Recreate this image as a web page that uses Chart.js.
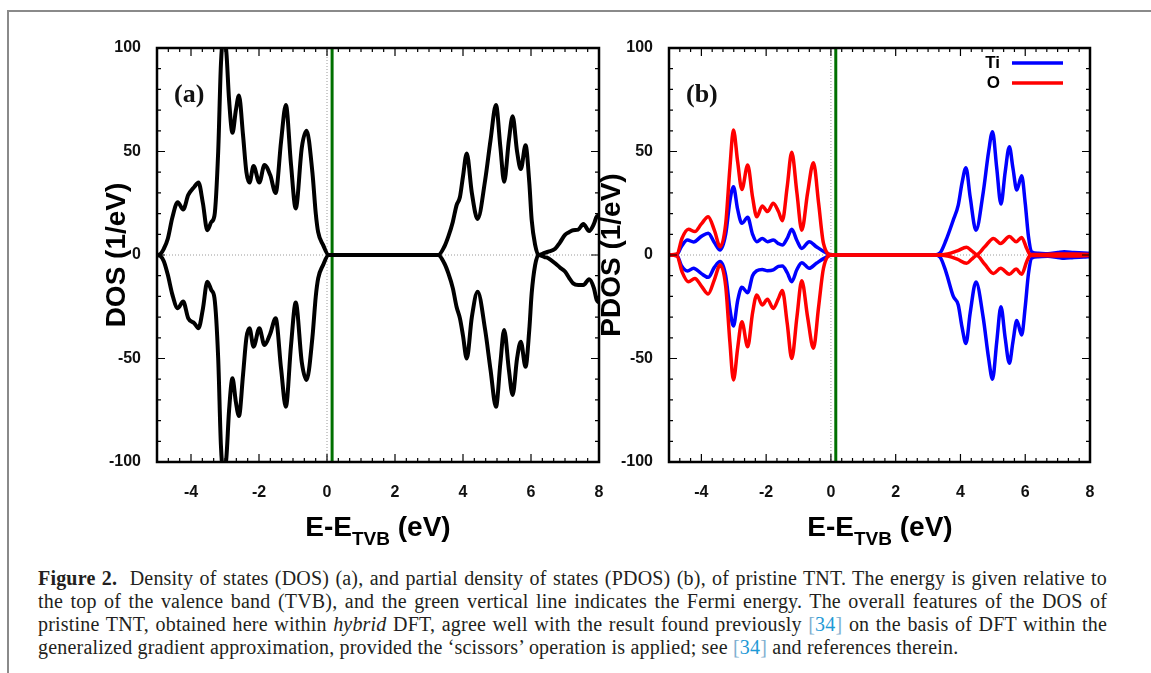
<!DOCTYPE html>
<html>
<head>
<meta charset="utf-8">
<script src="https://cdn.jsdelivr.net/npm/chart.js@4.4.0/dist/chart.umd.min.js"></script>
<style>
  body { margin: 0; background: #fff; width: 1151px; height: 673px; position: relative; overflow: hidden; }
  .frame { position: absolute; left: 7px; top: 10px; width: 1160px; height: 680px; border-top: 2px solid #8a8a8a; border-left: 2px solid #8a8a8a; }
  canvas { position: absolute; top: 0; }
  #chartA { left: 0; }
  #chartB { left: 560px; }
  .xtitle { position: absolute; top: 513px; font: bold 28px 'Liberation Sans', Arial, sans-serif; line-height: 28px; transform: translateX(-50%); white-space: nowrap; color: #000; }
  .xtitle span { font-size: 19px; position: relative; top: 9px; }
  .caption { position: absolute; left: 38px; top: 567px; width: 1069px; font: 20px 'Liberation Serif', 'Times New Roman', serif; letter-spacing: 0.2px; color: #231f20; }
  .caption div { height: 23px; line-height: 23px; text-align: justify; text-align-last: justify; white-space: nowrap; }
  .caption div.last { text-align-last: left; }
  .ref { color: #7fb0d0; }
  .ref b { color: #1f9ad6; font-weight: normal; }
</style>
</head>
<body>
<div class="frame"></div>
<canvas id="chartA" width="620" height="560"></canvas>
<canvas id="chartB" width="591" height="560"></canvas>
<div class="xtitle" style="left:378px">E-E<span>TVB</span> (eV)</div>
<div class="xtitle" style="left:880px">E-E<span>TVB</span> (eV)</div>
<div class="caption">
  <div><b>Figure 2.</b>&nbsp; Density of states (DOS) (a), and partial density of states (PDOS) (b), of pristine TNT. The energy is given relative to</div>
  <div>the top of the valence band (TVB), and the green vertical line indicates the Fermi energy. The overall features of the DOS of</div>
  <div>pristine TNT, obtained here within <i>hybrid</i> DFT, agree well with the result found previously <span class="ref">[<b>34</b>]</span> on the basis of DFT within the</div>
  <div class="last">generalized gradient approximation, provided the ‘scissors’ operation is applied; see <span class="ref">[<b>34</b>]</span> and references therein.</div>
</div>
<script>
// axes
const xTicks = [-4, -2, 0, 2, 4, 6, 8];
const yTicks = [-100, -50, 0, 50, 100];
const fermiLevel = 0.15;

// panel (a) : total DOS, spin up and spin down
const energyA = [-5.0, -4.9, -4.8, -4.68, -4.55, -4.39, -4.23, -4.08, -3.9, -3.78, -3.65, -3.52, -3.4, -3.31, -3.2, -3.12, -3.04, -2.96, -2.88, -2.78,
  -2.68, -2.59, -2.47, -2.37, -2.28, -2.16, -1.99, -1.84, -1.67, -1.51, -1.35, -1.21, -1.06, -0.92, -0.74, -0.6, -0.43, -0.33, -0.26, -0.12,
  0.05, 3.27, 3.45, 3.57, 3.7, 3.81, 3.91, 4.0, 4.11, 4.26, 4.43, 4.65, 4.81, 4.97, 5.1, 5.21, 5.35, 5.46, 5.59, 5.7,
  5.84, 5.95, 6.02, 6.12, 6.22, 6.4, 6.51, 6.71, 6.85, 7.0, 7.12, 7.24, 7.39, 7.54, 7.71, 7.85, 7.93, 8.0];
const dosUp = [0, 0.5, 3, 8, 18, 25.5, 22, 29, 33, 35, 25, 12, 16, 19, 50, 92, 106, 98, 75, 59,
  70, 77, 58, 40, 35, 43, 35, 43.5, 38.6, 30, 55, 72.5, 44, 22.5, 52, 60, 40, 20, 11, 5,
  0, 0, 4, 9, 16, 24, 28, 38, 49, 30, 17.4, 36, 55.5, 72.5, 52, 35.4, 55.5, 67, 50, 41.5,
  53, 35, 17, 5, 0, 1, 1.6, 3, 6, 9.7, 11, 12, 12.3, 15, 11.6, 15, 18.5, 19];
const dosDown = [0, -0.5, -3, -9.7, -19, -25.7, -22.5, -30.6, -33, -35.4, -26, -12.9, -17, -20.8, -50, -92, -106, -98, -75, -59.6,
  -71, -77.8, -58, -40, -35.4, -44.3, -35.4, -43.5, -38, -30.6, -55, -73.3, -44, -23, -52, -60.4, -40, -20, -11.3, -5,
  0, 0, -4, -8.9, -16, -25, -30.6, -39, -50, -30, -17.7, -36, -55.5, -73.3, -52, -36.2, -55.5, -67.6, -50, -41.9,
  -54, -36, -18.5, -5, 0, -1, -1.6, -4, -6, -8, -11, -13.7, -14.5, -14.5, -11.7, -16, -21.7, -23];

// panel (b) : partial DOS of Ti
const energyTi = [-5.0, -4.75, -4.62, -4.43, -4.24, -4.0, -3.79, -3.6, -3.42, -3.25, -3.12, -3.01, -2.88, -2.75, -2.57, -2.42, -2.29, -2.12, -1.96, -1.78,
  -1.62, -1.5, -1.35, -1.21, -1.05, -0.9, -0.67, -0.45, -0.2, 0.03, 3.2, 3.37, 3.55, 3.78, 3.93, 4.05, 4.17, 4.3, 4.48, 4.7,
  4.87, 4.99, 5.12, 5.25, 5.38, 5.51, 5.62, 5.74, 5.89, 6.0, 6.1, 6.2, 6.4, 6.7, 7.0, 7.2, 7.5, 7.8, 8.0];
const tiUp = [0, 0.3, 4, 7.2, 6.3, 9, 10.5, 6, 2.4, 10, 26, 33, 22, 15.3, 18.2, 10, 6.4, 8, 6.4, 7.2,
  5.5, 4.8, 8, 12.4, 7, 3.2, 6.4, 4, 1.5, 0, 0, 1, 7, 17, 24, 35, 42.2, 28, 12, 30,
  50, 59.6, 42, 24.6, 40, 52.3, 42, 31.4, 38.3, 25, 8.9, 1.5, 0.8, 0.6, 1.2, 1.6, 1.2, 1, 0.8];
const tiDown = [0, -0.3, -5, -7.7, -6.4, -9, -10.8, -6, -3.2, -10, -26, -34.3, -22, -15.6, -18.2, -10, -7.6, -7, -7.6, -7.2,
  -5.5, -5.3, -8.5, -12.9, -7, -3.7, -6.4, -4, -1.5, 0, 0, -1, -8, -20, -24, -35, -42.7, -28, -13, -30,
  -50, -60, -42, -25, -40, -52.3, -42, -31.7, -38.6, -25, -9, -1.5, -0.8, -0.6, -1.2, -1.6, -1.2, -1, -0.8];

// panel (b) : partial DOS of O
const energyO = [-5.0, -4.75, -4.6, -4.4, -4.2, -4.0, -3.79, -3.6, -3.42, -3.25, -3.12, -3.01, -2.88, -2.75, -2.57, -2.42, -2.29, -2.12, -1.96, -1.78,
  -1.62, -1.5, -1.35, -1.21, -1.05, -0.9, -0.72, -0.54, -0.38, -0.23, 0.03, 3.3, 3.6, 3.9, 4.19, 4.35, 4.5, 4.75, 5.02, 5.24,
  5.51, 5.72, 5.89, 6.05, 6.15, 6.5, 7.0, 7.5, 8.0];
const oUp = [0, 0.5, 8, 12.4, 11.3, 15, 18.5, 12, 4, 15, 42, 60.4, 45, 31.7, 43.5, 28, 18.5, 23.7, 21, 25,
  21, 16.6, 33, 49.6, 30, 12, 30, 44.6, 25, 5.6, 0, 0, 0.5, 2, 3.7, 2, 0.3, 4, 8, 5.6,
  8.9, 6.4, 8.5, 3, 0.3, 0.3, 0.5, 0.5, 0.3];
const oDown = [0, -0.5, -8, -12.9, -11.3, -15, -18.8, -12, -4.8, -15, -42, -60.4, -45, -32.2, -44.3, -28, -19.3, -24.2, -21.4, -25.8,
  -21, -17.2, -33, -50, -30, -12.4, -30, -45, -25, -6.4, 0, 0, -0.5, -2, -4, -2, -0.3, -4.5, -8.9, -6.4,
  -9.3, -6.8, -9.3, -3, -0.3, -0.3, -0.5, -0.5, -0.3];

const FONT = "'Liberation Sans', Arial, sans-serif";
Chart.defaults.font.family = FONT;

function pts(xs, ys) {
    return xs.map((e, i) => ({x: e, y: ys[i]}));
}

function curve(xs, ys, color, width, order) {
    return {
        data: pts(xs, ys),
        borderColor: color,
        borderWidth: width,
        pointRadius: 0,
        cubicInterpolationMode: 'monotone',
        clip: 0,
        order: order
    };
}

function fermiLine() {
    return {
        data: [{x: fermiLevel, y: -100}, {x: fermiLevel, y: 100}],
        borderColor: '#007000',
        borderWidth: 3,
        pointRadius: 0,
        clip: 0,
        order: 5
    };
}

// dotted zero lines, frame with inward ticks, panel label and legend
const decor = {
    id: 'decor',
    beforeDatasetsDraw(chart) {
        const {ctx, chartArea: a, scales: {x, y}} = chart;
        ctx.save();
        ctx.strokeStyle = '#9a9a9a';
        ctx.lineWidth = 1;
        ctx.setLineDash([1, 2]);
        ctx.beginPath();
        ctx.moveTo(a.left, y.getPixelForValue(0));
        ctx.lineTo(a.right, y.getPixelForValue(0));
        ctx.moveTo(x.getPixelForValue(0), a.top);
        ctx.lineTo(x.getPixelForValue(0), a.bottom);
        ctx.stroke();
        ctx.restore();
    },
    afterDatasetsDraw(chart, args, opts) {
        const {ctx, chartArea: a, scales: {x, y}} = chart;
        ctx.save();
        ctx.strokeStyle = '#000';
        ctx.lineWidth = 1.2;
        ctx.beginPath();
        for (let i = 0; i <= 39; i++) {
            const v = -5 + i / 3;
            const len = xTicks.some(t => Math.abs(t - v) < 1e-6) ? 8 : 4;
            const px = x.getPixelForValue(v);
            ctx.moveTo(px, a.bottom); ctx.lineTo(px, a.bottom - len);
            ctx.moveTo(px, a.top); ctx.lineTo(px, a.top + len);
        }
        for (let i = 0; i <= 20; i++) {
            const v = -100 + i * 10;
            const len = v % 50 === 0 ? 8 : 4;
            const py = y.getPixelForValue(v);
            ctx.moveTo(a.left, py); ctx.lineTo(a.left + len, py);
            ctx.moveTo(a.right, py); ctx.lineTo(a.right - len, py);
        }
        ctx.stroke();
        ctx.lineWidth = 2.5;
        ctx.strokeRect(a.left, a.top, a.width, a.height);

        ctx.fillStyle = '#111';
        ctx.font = "bold 26px 'Liberation Serif', 'Times New Roman', serif";
        ctx.textBaseline = 'alphabetic';
        ctx.textAlign = 'left';
        ctx.fillText(opts.label, a.left + 17, a.top + 54);

        (opts.legend || []).forEach((item, i) => {
            const ly = a.top + 15 + 20 * i;
            ctx.font = 'bold 17px ' + FONT;
            ctx.textAlign = 'right';
            ctx.textBaseline = 'middle';
            ctx.fillStyle = '#000';
            ctx.fillText(item.text, a.right - 90, ly);
            ctx.strokeStyle = item.color;
            ctx.lineWidth = 3.5;
            ctx.beginPath();
            ctx.moveTo(a.right - 78, ly);
            ctx.lineTo(a.right - 27, ly);
            ctx.stroke();
        });
        ctx.restore();
    }
};

function panelOptions(yTitle, padLeft, yWidth, padRight, label, legend) {
    return {
        responsive: false,
        animation: false,
        layout: {padding: {left: padLeft, right: padRight, top: 48, bottom: 0}},
        plugins: {
            legend: {display: false},
            tooltip: {enabled: false},
            decor: {label: label, legend: legend}
        },
        scales: {
            x: {
                type: 'linear',
                min: -5,
                max: 8,
                afterBuildTicks: s => { s.ticks = xTicks.map(v => ({value: v})); },
                afterFit: s => { s.height = 98; },
                grid: {display: false},
                border: {display: false},
                ticks: {padding: 13, color: '#111', font: {size: 16, weight: 'bold'}}
            },
            y: {
                type: 'linear',
                min: -100,
                max: 100,
                afterBuildTicks: s => { s.ticks = yTicks.map(v => ({value: v})); },
                afterFit: s => { s.width = yWidth; },
                grid: {display: false},
                border: {display: false},
                ticks: {padding: 8, color: '#111', font: {size: 16, weight: 'bold'}},
                title: {display: true, text: yTitle, color: '#000', padding: 0, font: {size: 28, weight: 'bold'}}
            }
        }
    };
}

new Chart(document.getElementById('chartA'), {
    type: 'line',
    data: {
        datasets: [
            curve(energyA, dosUp, '#000', 4, 1),
            curve(energyA, dosDown, '#000', 4, 1),
            fermiLine()
        ]
    },
    options: panelOptions('DOS (1/eV)', 100, 57, 21, '(a)', []),
    plugins: [decor]
});

new Chart(document.getElementById('chartB'), {
    type: 'line',
    data: {
        datasets: [
            curve(energyO, oUp, '#ff0000', 3.5, 1),
            curve(energyO, oDown, '#ff0000', 3.5, 1),
            curve(energyTi, tiUp, '#0000ff', 3.5, 2),
            curve(energyTi, tiDown, '#0000ff', 3.5, 2),
            fermiLine()
        ]
    },
    options: panelOptions('PDOS (1/eV)', 35, 74, 61, '(b)', [
        {text: 'Ti', color: '#0000ff'},
        {text: 'O', color: '#ff0000'}
    ]),
    plugins: [decor]
});
</script>
</body>
</html>
